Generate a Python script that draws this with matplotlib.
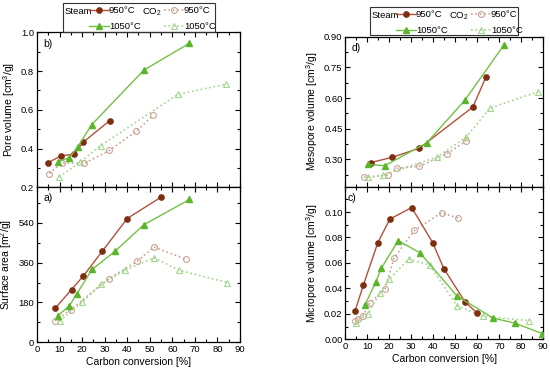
import numpy as np
import matplotlib
matplotlib.use("Agg")
import matplotlib.pyplot as plt
from matplotlib.lines import Line2D
from matplotlib.patches import Rectangle
from matplotlib.ticker import MultipleLocator

plt.rcParams['font.family'] = ['Liberation Sans', 'DejaVu Sans']
plt.rcParams['mathtext.fontset'] = 'custom'
plt.rcParams['mathtext.rm'] = 'Liberation Sans'

# ---- data ----
# b) pore volume
b_st950_x = [5.0, 10.6, 16.5, 20.4, 32.2]
b_st950_y = [0.328, 0.362, 0.372, 0.432, 0.544]
b_st1050_x = [9.1, 14.3, 18.0, 24.3, 47.4, 67.5]
b_st1050_y = [0.333, 0.352, 0.408, 0.524, 0.805, 0.943]
b_co950_x = [5.5, 11.0, 20.8, 32.1, 44.1, 51.6]
b_co950_y = [0.271, 0.327, 0.323, 0.390, 0.490, 0.572]
b_co1050_x = [9.9, 19.1, 28.2, 62.5, 83.7]
b_co1050_y = [0.253, 0.330, 0.415, 0.680, 0.732]

# a) surface area
a_st950_x = [8.0, 15.3, 20.6, 29.0, 40.0, 54.9]
a_st950_y = [153, 238, 300, 412, 559, 655]
a_st1050_x = [9.2, 14.3, 17.6, 24.4, 34.6, 47.4, 67.6]
a_st1050_y = [120, 164, 218, 329, 411, 531, 645]
a_co950_x = [8.0, 15.0, 32.1, 44.4, 51.8, 66.2]
a_co950_y = [97, 148, 288, 366, 430, 375]
a_co1050_x = [10.0, 19.9, 28.2, 39.0, 51.8, 63.1, 84.4]
a_co1050_y = [96, 180, 262, 325, 382, 325, 270]

# d) mesopore volume
d_st950_x = [11.5, 21.4, 33.6, 58.0, 63.9]
d_st950_y = [0.284, 0.310, 0.354, 0.556, 0.702]
d_st1050_x = [10.5, 18.0, 37.1, 54.4, 72.0]
d_st1050_y = [0.275, 0.269, 0.381, 0.590, 0.858]
d_co950_x = [8.5, 19.5, 23.6, 33.6, 46.1, 54.9]
d_co950_y = [0.212, 0.222, 0.256, 0.266, 0.326, 0.390]
d_co1050_x = [10.5, 17.3, 41.5, 54.9, 65.8, 87.7]
d_co1050_y = [0.212, 0.224, 0.310, 0.408, 0.551, 0.631]

# c) micropore volume
c_st950_x = [4.4, 8.2, 14.8, 20.3, 30.2, 39.7, 44.8, 54.4, 59.7]
c_st950_y = [0.022, 0.0425, 0.076, 0.0945, 0.1035, 0.076, 0.0555, 0.0295, 0.021]
c_st1050_x = [8.9, 13.9, 16.4, 24.1, 33.9, 50.7, 67.1, 77.1, 89.5]
c_st1050_y = [0.027, 0.045, 0.056, 0.0775, 0.068, 0.0342, 0.0167, 0.0127, 0.0045]
c_co950_x = [4.6, 5.8, 8.0, 11.2, 18.0, 22.2, 31.4, 43.8, 51.2]
c_co950_y = [0.014, 0.016, 0.0185, 0.0285, 0.0395, 0.064, 0.0855, 0.0995, 0.0953]
c_co1050_x = [4.8, 10.2, 15.9, 19.8, 28.8, 38.3, 50.9, 62.8, 83.4]
c_co1050_y = [0.0125, 0.020, 0.0365, 0.047, 0.063, 0.0584, 0.0262, 0.018, 0.0147]

# ---- styles ----
ST950_LINE = '#b4503a'
ST950_MARK = '#7e2e10'
ST1050_LINE = '#74c044'
ST1050_MARK = '#5ab52a'
CO950 = '#c9a293'
CO1050 = '#a2d68c'
FS = 7.5
TFS = 6.8

fig = plt.figure(figsize=(5.5, 3.74), dpi=100)


def style_axis(ax, ymaj, ymin, xlabels=True):
    ax.set_xlim(0, 90)
    ax.xaxis.set_major_locator(MultipleLocator(10))
    ax.xaxis.set_minor_locator(MultipleLocator(5))
    ax.yaxis.set_major_locator(MultipleLocator(ymaj))
    ax.yaxis.set_minor_locator(MultipleLocator(ymin))
    ax.tick_params(which='both', direction='in', top=True, right=True, labelsize=TFS, pad=2)
    ax.tick_params(which='major', length=3.5, width=0.8)
    ax.tick_params(which='minor', length=2, width=0.8)
    if not xlabels:
        ax.tick_params(labelbottom=False)
    else:
        ax.set_xlabel('Carbon conversion [%]', fontsize=FS, labelpad=2)
    for s in ax.spines.values():
        s.set_linewidth(0.9)


def steam_kw(which):
    if which == 950:
        return dict(color=ST950_LINE, lw=1.0, marker='o', ms=3.8,
                    mfc=ST950_MARK, mec=ST950_MARK)
    return dict(color=ST1050_LINE, lw=1.0, marker='^', ms=4.3,
                mfc=ST1050_MARK, mec=ST1050_MARK)


def co2_kw(which):
    if which == 950:
        return dict(color=CO950, lw=1.2, ls=':', marker='o', ms=4.2,
                    mfc='none', mec=CO950, mew=0.8)
    return dict(color=CO1050, lw=1.2, ls=':', marker='^', ms=4.7,
                mfc='none', mec=CO1050, mew=0.8)


def draw(ax, s950, s1050, c950, c1050):
    ax.plot(*s950, zorder=4, **steam_kw(950))
    ax.plot(*s1050, zorder=4, **steam_kw(1050))
    ax.plot(*c950, zorder=3, **co2_kw(950))
    ax.plot(*c1050, zorder=3, **co2_kw(1050))


def add_legend(x0, y0, w, h):
    # box in pixel coordinates of the 550x374 figure
    fig.add_artist(Rectangle((x0 / 550, 1 - (y0 + h) / 374), w / 550, h / 374,
                             transform=fig.transFigure, fill=False,
                             edgecolor='#333333', lw=0.8))
    st = [Line2D([], [], **steam_kw(950)), Line2D([], [], **steam_kw(1050))]
    co = [Line2D([], [], **co2_kw(950)), Line2D([], [], **co2_kw(1050))]
    fig.text((x0 + 2) / 550, 1 - (y0 + 9) / 374, 'Steam', fontsize=TFS, va='center')
    fig.text((x0 + 79) / 550, 1 - (y0 + 9) / 374, 'CO$_2$', fontsize=TFS, va='center')
    kw = dict(loc='upper left', frameon=False, fontsize=TFS, handlelength=2.1,
              handletextpad=0.0, labelspacing=0.75, borderpad=0, borderaxespad=0)
    fig.legend(st, ['950°C', '1050°C'],
               bbox_to_anchor=((x0 + 26) / 550, 1 - (y0 + 3) / 374), **kw)
    fig.legend(co, ['950°C', '1050°C'],
               bbox_to_anchor=((x0 + 101) / 550, 1 - (y0 + 3) / 374), **kw)


# left column
ax_b = fig.add_axes([0.0673, 0.4992, 0.369, 0.4144])
ax_a = fig.add_axes([0.0673, 0.0848, 0.369, 0.4144])
# right column
ax_d = fig.add_axes([0.6278, 0.5008, 0.36, 0.401])
ax_c = fig.add_axes([0.6278, 0.0928, 0.36, 0.408])

draw(ax_b, (b_st950_x, b_st950_y), (b_st1050_x, b_st1050_y),
     (b_co950_x, b_co950_y), (b_co1050_x, b_co1050_y))
ax_b.set_ylim(0.2, 1.0)
style_axis(ax_b, 0.2, 0.1, xlabels=False)
ax_b.set_ylabel('Pore volume [cm$^3$/g]', fontsize=FS, labelpad=3)
ax_b.text(0.03, 0.96, 'b)', transform=ax_b.transAxes, fontsize=FS, va='top')

draw(ax_a, (a_st950_x, a_st950_y), (a_st1050_x, a_st1050_y),
     (a_co950_x, a_co950_y), (a_co1050_x, a_co1050_y))
ax_a.set_ylim(0, 700)
style_axis(ax_a, 180, 90)
ax_a.set_ylabel('Surface area [m$^2$/g]', fontsize=FS, labelpad=3)
ax_a.text(0.03, 0.96, 'a)', transform=ax_a.transAxes, fontsize=FS, va='top')

draw(ax_d, (d_st950_x, d_st950_y), (d_st1050_x, d_st1050_y),
     (d_co950_x, d_co950_y), (d_co1050_x, d_co1050_y))
ax_d.set_ylim(0.166, 0.90)
style_axis(ax_d, 0.15, 0.075, xlabels=False)
ax_d.yaxis.set_major_formatter(plt.FormatStrFormatter('%.2f'))
ax_d.set_ylabel('Mesopore volume [cm$^3$/g]', fontsize=FS, labelpad=3)
ax_d.text(0.03, 0.96, 'd)', transform=ax_d.transAxes, fontsize=FS, va='top')

draw(ax_c, (c_st950_x, c_st950_y), (c_st1050_x, c_st1050_y),
     (c_co950_x, c_co950_y), (c_co1050_x, c_co1050_y))
ax_c.set_ylim(0, 0.1199)
style_axis(ax_c, 0.02, 0.01)
ax_c.yaxis.set_major_formatter(plt.FormatStrFormatter('%.2f'))
ax_c.set_ylabel('Micropore volume [cm$^3$/g]', fontsize=FS, labelpad=3)
ax_c.text(0.01, 0.96, 'c)', transform=ax_c.transAxes, fontsize=FS, va='top')

add_legend(63, 3, 152, 29)
add_legend(370, 7, 148, 28)

fig.savefig('out.png', dpi=100)
